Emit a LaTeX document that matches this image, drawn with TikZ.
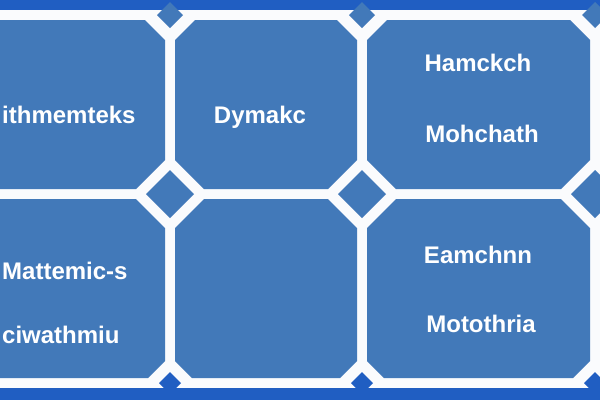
\documentclass[tikz,border=0pt]{standalone}
\usepackage{fontspec}
\setmainfont{Liberation Sans}
\definecolor{tileblue}{RGB}{66,121,185}
\definecolor{deepblue}{RGB}{32,94,194}
\definecolor{gapwhite}{RGB}{250,251,253}
\tikzset{
  lbl/.style={text=white, inner sep=0pt, font=\fontsize{24}{28}\selectfont\bfseries},
}
% octagonal tile: x1 y1 x2 y2 and chamfers TL TR BR BL
\newcommand\octile[8]{%
  \fill[tileblue] (#1+#5,#2) -- (#3-#6,#2) -- (#3,#2+#6) -- (#3,#4-#7) -- (#3-#7,#4)
    -- (#1+#8,#4) -- (#1,#4-#8) -- (#1,#2+#5) -- cycle;}
\newcommand\gemdiamond[4]{%
  \fill[#4] (#1-#3,#2) -- (#1,#2-#3) -- (#1+#3,#2) -- (#1,#2+#3) -- cycle;}
\begin{document}
\begin{tikzpicture}[x=1pt,y=-1pt]
\useasboundingbox (0,0) rectangle (600,400);
% background
\fill[deepblue] (0,0) rectangle (600,400);
\fill[gapwhite] (0,10) rectangle (600,388);
% tiles, top row
\octile{-35}{20}{165}{189}{20}{20}{29}{29}
\octile{175}{20}{357}{189}{20}{20}{29}{29}
\octile{367}{20}{590}{189}{20}{20}{29}{29}
\octile{600}{20}{800}{189}{20}{20}{29}{29}
% tiles, bottom row
\octile{-35}{199}{165}{378}{29}{29}{17}{17}
\octile{175}{199}{357}{378}{29}{29}{17}{17}
\octile{367}{199}{590}{378}{29}{29}{17}{17}
\octile{600}{199}{800}{378}{29}{29}{17}{17}
% diamonds at the crossings
\foreach \cx in {170,362,595}{
  \gemdiamond{\cx}{194}{24}{tileblue}
  \gemdiamond{\cx}{15}{13}{tileblue}
  \gemdiamond{\cx}{383}{11}{deepblue}
}
% labels
\node[lbl, anchor=base west] (t1) at (2,123) {ithmemteks};
\node[lbl, anchor=base] (t2) at (260,123) {Dymakc};
\node[lbl, anchor=base] (t3) at (478,71) {Hamckch};
\node[lbl, anchor=base] (t4) at (482,142) {Mohchath};
\node[lbl, anchor=base west] (t5) at (2,279) {Mattemic-s};
\node[lbl, anchor=base west] (t6) at (2,343) {ciwathmiu};
\node[lbl, anchor=base] (t7) at (478,263) {Eamchnn};
\node[lbl, anchor=base] (t8) at (481,332) {Motothria};
\end{tikzpicture}
\end{document}
